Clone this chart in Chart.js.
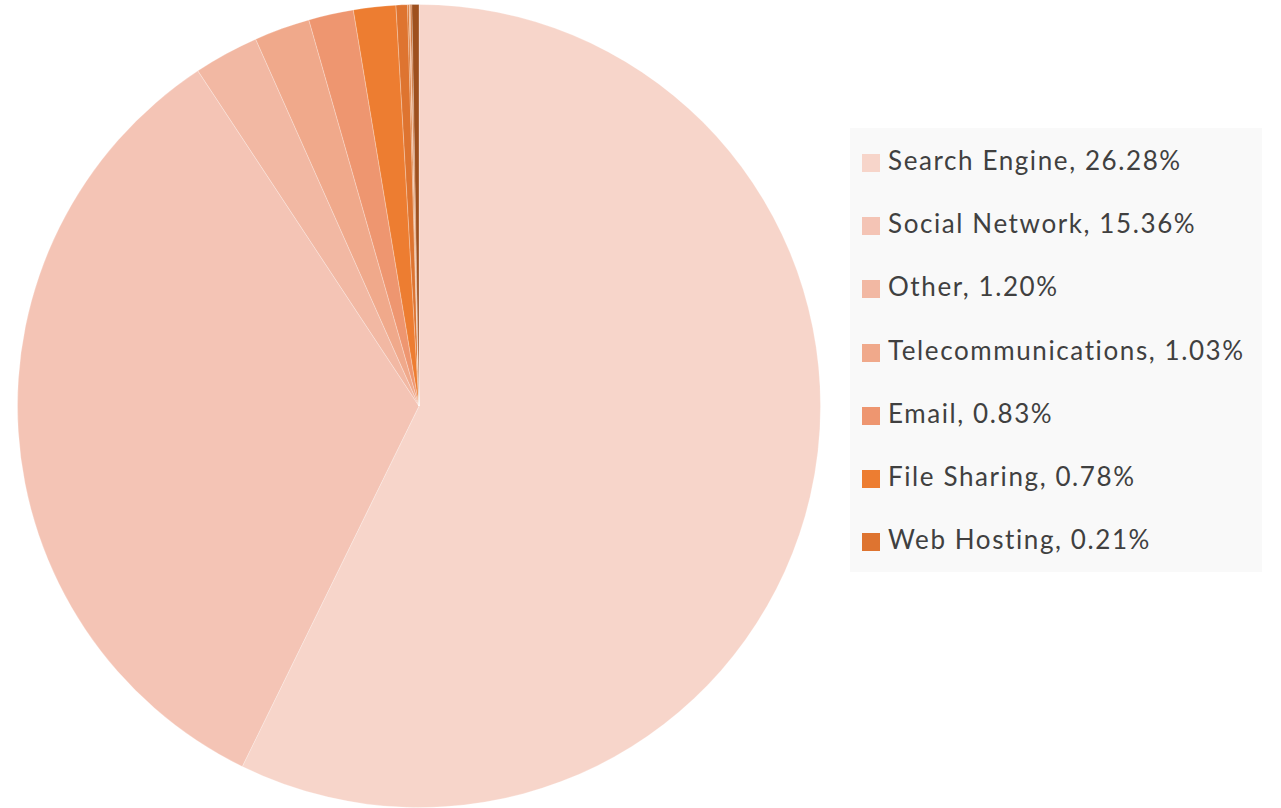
<!DOCTYPE html>
<html>
<head>
<meta charset="utf-8">
<script src="https://cdn.jsdelivr.net/npm/chart.js@4"></script>
<style>
    body { margin: 0; background: #ffffff; width: 1281px; height: 808px; overflow: hidden; position: relative; }
    #trafficChart { position: absolute; left: 17px; top: 4px; }
    #trafficLegend {
        position: absolute; left: 850px; top: 128px; width: 412px; height: 444px;
        background: #f9f9f9; font-family: Lato, "Open Sans", sans-serif; font-size: 26px; color: #404040;
        letter-spacing: 1.6px;
    }
    .legendItem { position: absolute; left: 12px; height: 30px; line-height: 30px; white-space: nowrap; }
    .legendItem span.box { display: inline-block; width: 18px; height: 18px; margin-right: 8px; vertical-align: -2px; }
</style>
</head>
<body>
<canvas id="trafficChart" width="804" height="804"></canvas>
<div id="trafficLegend"></div>
<script>
// traffic sources, share of visits (%) - only the first 7 show in the legend
var sourceNames = ["Search Engine", "Social Network", "Other", "Telecommunications", "Email", "File Sharing", "Web Hosting", "", "", "", ""];
var sourceShares = [26.28, 15.36, 1.20, 1.03, 0.83, 0.78, 0.21, 0.03, 0.02, 0.03, 0.13];
var sourceLabels = ["26.28%", "15.36%", "1.20%", "1.03%", "0.83%", "0.78%", "0.21%"];
var sourceColors = ['#f7d5ca', '#f4c4b5', '#f2b8a3', '#f0a98b', '#ee9670', '#ed7d31', '#de7430', '#d9722c', '#f0a070', '#c8682a', '#9e501e'];

var trafficChart = document.getElementById('trafficChart').getContext('2d');

var newChart = new Chart(trafficChart, {
    type: 'pie',
    data: {
        labels: sourceNames,
        datasets: [{
            data: sourceShares,
            backgroundColor: sourceColors,
            borderColor: 'rgba(255,255,255,0.25)',
            borderWidth: 1
        }]
    },
    options: {
        responsive: false,
        animation: false,
        devicePixelRatio: 1,
        layout: { padding: 0 },
        plugins: {
            legend: { display: false },
            tooltip: { enabled: false }
        }
    }
});

// legend built from the same arrays
var legendBox = document.getElementById('trafficLegend');
for (var i = 0; i < sourceLabels.length; i++) {
    var item = document.createElement('div');
    item.className = 'legendItem';
    item.style.top = (17 + i * 63.2) + 'px';
    item.innerHTML = '<span class="box" style="background:' + sourceColors[i] + '"></span>' + sourceNames[i] + ', ' + sourceLabels[i];
    legendBox.appendChild(item);
}
</script>
</body>
</html>
